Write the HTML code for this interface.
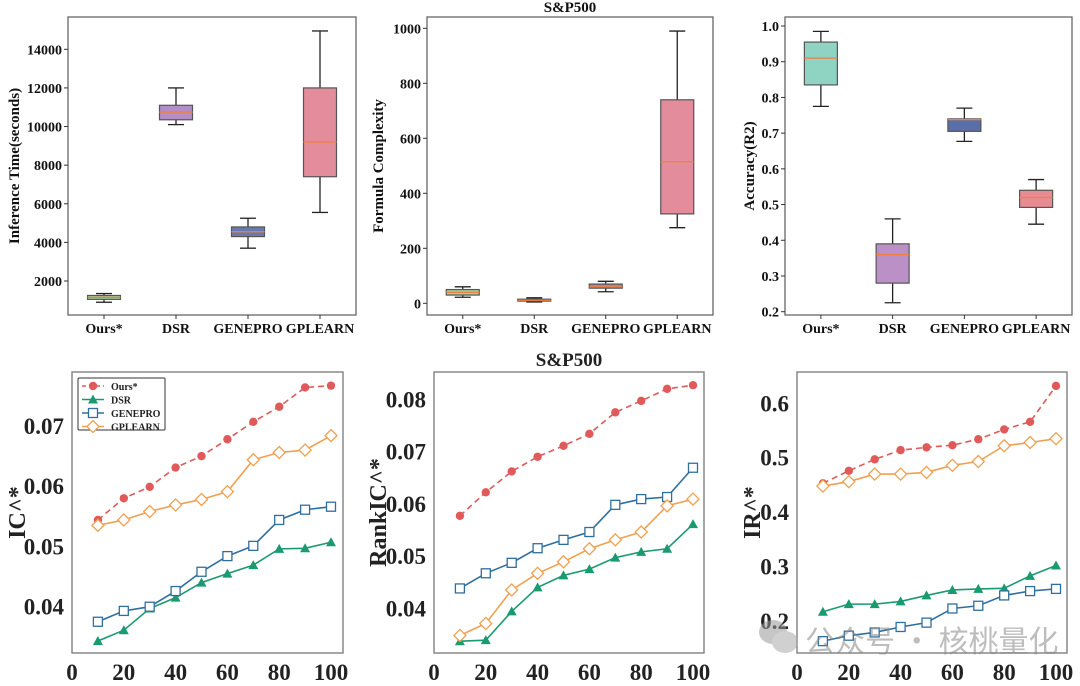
<!DOCTYPE html>
<html><head><meta charset="utf-8">
<style>
html,body{margin:0;padding:0;background:#fff;}
svg{display:block;font-family:"Liberation Serif",serif;font-weight:bold;}
</style></head>
<body>
<svg id="fig" width="1080" height="686" viewBox="0 0 1080 686" xmlns="http://www.w3.org/2000/svg"></svg>
<script>
// ---- data: box plots ----
const boxCategories = ["Ours*","DSR","GENEPRO","GPLEARN"];
// [whiskerLow, q1, median, q3, whiskerHigh]
const timeStats = [[900,1050,1150,1250,1350],[10100,10350,10750,11100,12000],[3700,4300,4550,4800,5250],[5550,7400,9200,12000,14950]];
const complexityStats = [[22,30,40,50,60],[5,8,11,15,20],[42,55,60,70,80],[275,325,515,740,990]];
const accuracyStats = [[0.775,0.835,0.91,0.955,0.985],[0.225,0.28,0.36,0.39,0.46],[0.677,0.705,0.738,0.74,0.77],[0.445,0.492,0.52,0.54,0.57]];
const timeTicks = [2000,4000,6000,8000,10000,12000,14000];
const complexityTicks = [0,200,400,600,800,1000];
const accuracyTicks = [0.2,0.3,0.4,0.5,0.6,0.7,0.8,0.9,1.0];
// ---- data: line charts ----
const xValues = [10,20,30,40,50,60,70,80,90,100];
const xTicks = [0,20,40,60,80,100];
const seriesNames = ["Ours*","DSR","GENEPRO","GPLEARN"];
const icOurs = [0.0544,0.0580,0.0599,0.0631,0.0650,0.0678,0.0707,0.0732,0.0764,0.0767];
const icDSR = [0.0343,0.0361,0.0397,0.0415,0.0440,0.0455,0.0469,0.0496,0.0497,0.0507];
const icGenepro = [0.0375,0.0393,0.0400,0.0426,0.0458,0.0484,0.0501,0.0544,0.0561,0.0566];
const icGplearn = [0.0535,0.0544,0.0558,0.0569,0.0578,0.0591,0.0644,0.0656,0.0660,0.0684];
const rankOurs = [0.0577,0.0622,0.0662,0.0690,0.0711,0.0734,0.0775,0.0797,0.0820,0.0827];
const rankDSR = [0.0337,0.0339,0.0394,0.0440,0.0463,0.0475,0.0497,0.0508,0.0514,0.0561];
const rankGenepro = [0.0438,0.0467,0.0487,0.0515,0.0531,0.0546,0.0598,0.0609,0.0613,0.0669];
const rankGplearn = [0.0348,0.0371,0.0435,0.0467,0.0489,0.0514,0.0531,0.0546,0.0596,0.0609];
const irOurs = [0.453,0.476,0.497,0.514,0.519,0.523,0.534,0.552,0.566,0.632];
const irDSR = [0.217,0.231,0.231,0.236,0.247,0.257,0.259,0.260,0.283,0.302];
const irGenepro = [0.163,0.173,0.179,0.189,0.197,0.223,0.228,0.247,0.255,0.259];
const irGplearn = [0.448,0.456,0.470,0.470,0.473,0.486,0.493,0.522,0.528,0.535];
const icTicks = [0.04,0.05,0.06,0.07];
const rankTicks = [0.04,0.05,0.06,0.07,0.08];
const irTicks = [0.2,0.3,0.4,0.5,0.6];

const NS="http://www.w3.org/2000/svg";
const svg=document.getElementById('fig');
function mk(tag,attrs,parent){const e=document.createElementNS(NS,tag);for(const k in attrs)e.setAttribute(k,attrs[k]);(parent||svg).appendChild(e);return e;}
function txt(s,attrs,parent){const e=mk('text',attrs,parent);e.textContent=s;return e;}
function lin(d0,d1,r0,r1){return v=>r0+(v-d0)/(d1-d0)*(r1-r0);}

function boxPanel(o){
  const g=mk('g',{});
  
  
  const y=lin(o.v0,o.v1,o.p0,o.p1);
  const fr=mk('rect',{x:o.L,y:o.T,width:o.R-o.L,height:o.B-o.T,fill:'none',stroke:'#666','stroke-width':1.3},g);
  
  
  o.ticks.forEach(t=>{
    const yy=y(t);
    mk('line',{x1:o.L-4,x2:o.L,y1:yy,y2:yy,stroke:'#333'},g);
    const tl=txt(o.fmt(t),{x:o.L-6,y:yy+5,'text-anchor':'end','font-size':14,fill:'#111'},g);
    
    
  });
  const step=(o.R-o.L)/4;
  boxCategories.forEach((c,i)=>{
    const cx=o.L+step*(i+0.5);
    const s=o.stats[i];
    const bw=33;
    const bg=mk('g',{},g);
    
    
    mk('line',{x1:cx,x2:cx,y1:y(s[0]),y2:y(s[1]),stroke:'#222','stroke-width':1.3},bg);
    mk('line',{x1:cx,x2:cx,y1:y(s[3]),y2:y(s[4]),stroke:'#222','stroke-width':1.3},bg);
    mk('line',{x1:cx-8,x2:cx+8,y1:y(s[0]),y2:y(s[0]),stroke:'#222','stroke-width':1.3},bg);
    mk('line',{x1:cx-8,x2:cx+8,y1:y(s[4]),y2:y(s[4]),stroke:'#222','stroke-width':1.3},bg);
    mk('rect',{x:cx-bw/2,y:y(s[3]),width:bw,height:Math.max(1,y(s[1])-y(s[3])),fill:o.colors[i],stroke:'#555','stroke-width':1.2},bg);
    mk('line',{x1:cx-bw/2,x2:cx+bw/2,y1:y(s[2]),y2:y(s[2]),stroke:'#f08040','stroke-width':1.3},bg);
    mk('line',{x1:cx,x2:cx,y1:o.B,y2:o.B+4,stroke:'#333'},g);
    const xl=txt(c,{x:cx,y:o.B+18,'text-anchor':'middle','font-size':14,fill:'#111'},g);
    
    
  });
  const at=txt(o.ylabel,{transform:`translate(${o.yl},${(o.T+o.B)/2}) rotate(-90)`,'text-anchor':'middle','font-size':15,fill:'#111'},g);
  
  
}

boxPanel({name:'inference-time-boxplot',L:68,R:356,T:17,B:315,v0:2000,v1:14000,p0:281,p1:49.3,ticks:timeTicks,fmt:t=>String(t),stats:timeStats,colors:['#a9cf9a','#b48ec4','#6a7aaa','#e28c9c'],ylabel:'Inference Time(seconds)',yl:19});
boxPanel({name:'formula-complexity-boxplot',L:427,R:713,T:17,B:315,v0:0,v1:1000,p0:303.3,p1:28.3,ticks:complexityTicks,fmt:t=>String(t),stats:complexityStats,colors:['#a9cf9a','#e8a060','#9a8e9a','#e28c9c'],ylabel:'Formula Complexity',yl:383});
boxPanel({name:'accuracy-boxplot',L:785,R:1072,T:17,B:315,v0:0.2,v1:1.0,p0:311.7,p1:26,ticks:accuracyTicks,fmt:t=>t.toFixed(1),stats:accuracyStats,colors:['#8fd4c2','#bb90c6','#5a6fa8','#e88c94'],ylabel:'Accuracy(R2)',yl:754});
const t1=txt('S&P500',{x:570,y:12,'text-anchor':'middle','font-size':15,fill:'#111'});



const styles=[
 {color:'#e05a5a',dash:'6,4',marker:'circle'},
 {color:'#1a9a70',dash:'',marker:'triangle'},
 {color:'#2f6fa0',dash:'',marker:'square'},
 {color:'#f0a050',dash:'',marker:'diamond'}];
function marker(g,type,x,y,c){
  if(type==='circle')return mk('circle',{cx:x,cy:y,r:4.2,fill:c},g);
  if(type==='triangle')return mk('polygon',{points:`${x},${y-5} ${x+5},${y+4} ${x-5},${y+4}`,fill:c},g);
  if(type==='square')return mk('rect',{x:x-4.5,y:y-4.5,width:9,height:9,fill:'#fff',stroke:c,'stroke-width':1.3},g);
  return mk('polygon',{points:`${x},${y-6} ${x+6},${y} ${x},${y+6} ${x-6},${y}`,fill:'#fff',stroke:c,'stroke-width':1.3},g);
}
function linePanel(o){
  const g=mk('g',{});
  
  
  const x=lin(0,10,o.L,o.L+25.9);
  const y=lin(o.v0,o.v1,o.p0,o.p1);
  const fr=mk('rect',{x:o.L,y:o.T,width:o.R-o.L,height:o.B-o.T,fill:'none',stroke:'#777','stroke-width':1.3},g);
  
  
  o.ticks.forEach(t=>{
    const tl=txt(o.fmt(t),{x:o.L-8,y:y(t)+8,'text-anchor':'end','font-size':23,fill:'#222'},g);
    
    
  });
  xTicks.forEach(t=>{
    const tl=txt(String(t),{x:x(t),y:o.B+27,'text-anchor':'middle','font-size':23,fill:'#222'},g);
    
    
  });
  o.series.forEach((vals,si)=>{
    const st=styles[si];
    const sg=mk('g',{},g);
    
    
    const pts=vals.map((v,i)=>x(xValues[i])+','+y(v)).join(' ');
    mk('polyline',{points:pts,fill:'none',stroke:st.color,'stroke-width':1.6,'stroke-dasharray':st.dash},sg);
    vals.forEach((v,i)=>{
      const m=marker(sg,st.marker,x(xValues[i]),y(v),st.color);
      
      
    });
  });
  const at=txt(o.ylabel,{transform:`translate(${o.yl},${(o.T+o.B)/2}) rotate(-90)`,'text-anchor':'middle','font-size':24,fill:'#222'},g);
  
  
  return g;
}
const icPanel=linePanel({name:'ic-line-chart',L:72,R:343,T:372,B:653,v0:0.04,v1:0.07,p0:606.7,p1:426,ticks:icTicks,fmt:t=>t.toFixed(2),series:[icOurs,icDSR,icGenepro,icGplearn],ylabel:'IC^*',yl:25});
linePanel({name:'rankic-line-chart',L:434,R:704,T:372,B:653,v0:0.04,v1:0.08,p0:608.3,p1:399.3,ticks:rankTicks,fmt:t=>t.toFixed(2),series:[rankOurs,rankDSR,rankGenepro,rankGplearn],ylabel:'RankIC^*',yl:386});
linePanel({name:'ir-line-chart',L:797,R:1067,T:372,B:653,v0:0.2,v1:0.6,p0:621,p1:403.3,ticks:irTicks,fmt:t=>t.toFixed(1),series:[irOurs,irDSR,irGenepro,irGplearn],ylabel:'IR^*',yl:760});
const t2=txt('S&P500',{x:569,y:366,'text-anchor':'middle','font-size':19,fill:'#222'});



// legend
const lg=mk('g',{},icPanel);


mk('rect',{x:78,y:378,width:87,height:52,fill:'#fff',stroke:'#333','stroke-width':1,rx:1},lg);
seriesNames.forEach((n,i)=>{
  const st=styles[i];const yy=386+i*13.5;
  const e=mk('g',{},lg);
  
  
  mk('line',{x1:82,x2:104,y1:yy,y2:yy,stroke:st.color,'stroke-width':1.6,'stroke-dasharray':st.dash?'4,3':''},e);
  marker(e,st.marker,93,yy,st.color);
  txt(n,{x:111,y:yy+4,'font-size':10,fill:'#222'},e);
});

// watermark
const wm=mk('g',{opacity:0.55});


mk('ellipse',{cx:773,cy:632,rx:14,ry:12,fill:'#999'},wm);
mk('ellipse',{cx:785,cy:642,rx:13,ry:11,fill:'#aaa'},wm);
txt('公众号 · 核桃量化',{x:805,y:652,'font-size':30,'font-weight':'normal',fill:'#888','font-family':'"Noto Sans CJK SC",sans-serif'},wm);
</script>
</body></html>
